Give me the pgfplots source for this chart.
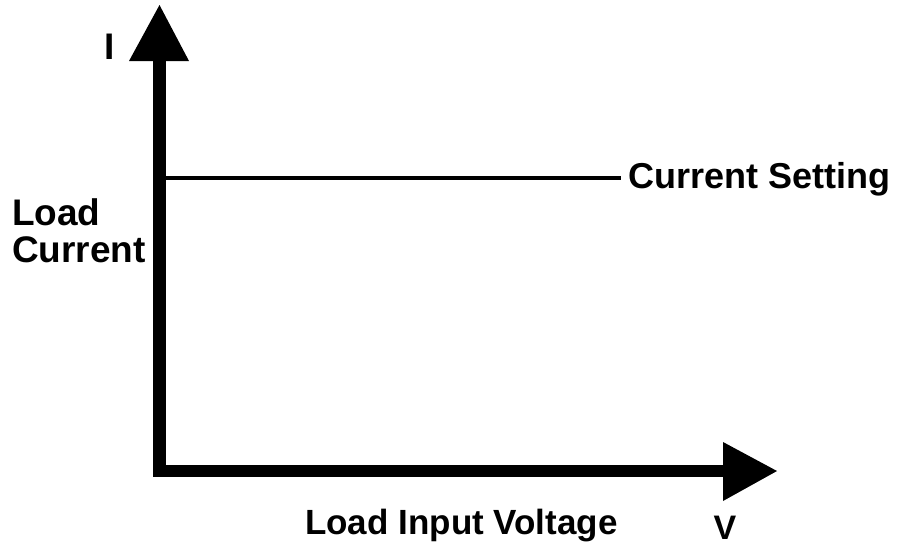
\documentclass[border=0pt]{standalone}
\usepackage{pgfplots}
\pgfplotsset{compat=1.18}
\usepackage{fontspec}
\setmainfont{Liberation Sans}
\begin{document}
\begin{tikzpicture}
\begin{axis}[
  name=main,
  scale only axis, width=900pt, height=546pt,
  xmin=0, xmax=900, ymin=0, ymax=546, y dir=reverse,
  hide axis, clip=false,
]
% axes shafts
\fill[black] (axis cs:153,58) rectangle (axis cs:166,477);
\fill[black] (axis cs:153,465) rectangle (axis cs:726,477);
% arrow heads
\fill[black] (axis cs:129,61) -- (axis cs:159.5,5) -- (axis cs:189,61) -- cycle;
\fill[black] (axis cs:723,442) -- (axis cs:777,471) -- (axis cs:723,501) -- cycle;
% current setting line
\addplot[black, line width=4pt] coordinates {(166,178) (621,178)};
% labels
\node[anchor=base west, inner sep=0pt, font=\bfseries\fontsize{36}{40}\selectfont] at (axis cs:628,188) {Current Setting};
\node[anchor=base west, inner sep=0pt, font=\bfseries\fontsize{37}{40}\selectfont] at (axis cs:12,225) {Load};
\node[anchor=base west, inner sep=0pt, font=\bfseries\fontsize{37}{40}\selectfont] at (axis cs:12,262) {Current};
\node[anchor=base, inner sep=0pt, font=\bfseries\fontsize{37}{40}\selectfont] at (axis cs:110,59) {I};
\node[anchor=base west, inner sep=0pt, font=\bfseries\fontsize{35}{40}\selectfont] at (axis cs:305,534) {Load Input Voltage};
\node[anchor=base, inner sep=0pt, font=\bfseries\fontsize{34}{40}\selectfont] at (axis cs:725,539) {V};
\end{axis}
\pgfresetboundingbox
\path[use as bounding box] (main.south west) rectangle (main.north east);
\end{tikzpicture}
\end{document}
